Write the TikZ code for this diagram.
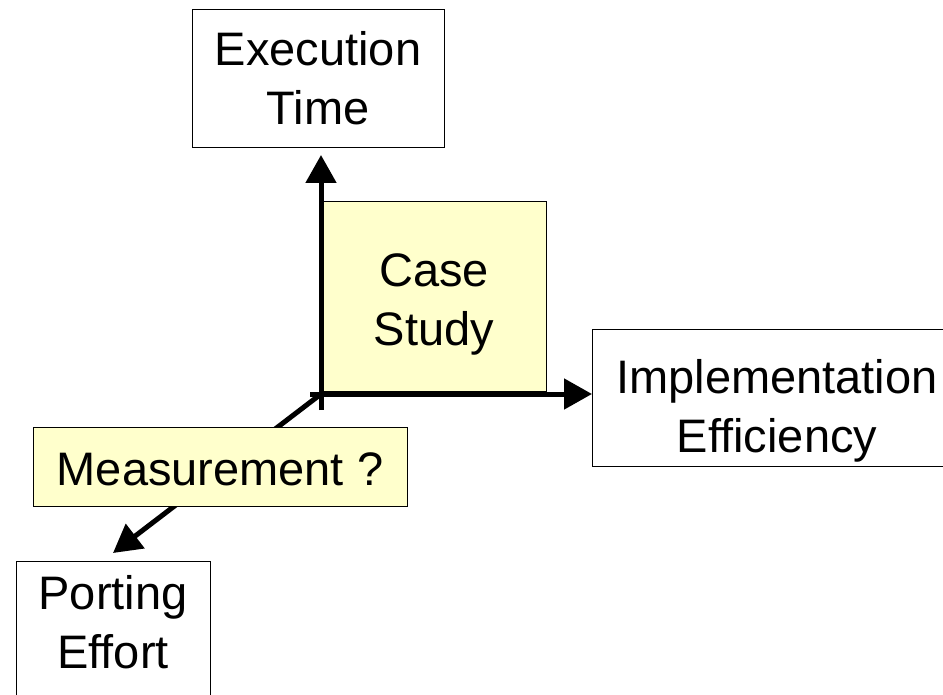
\documentclass[tikz,border=0pt]{standalone}
\usepackage{fontspec}
\setmainfont{Liberation Sans}
\usetikzlibrary{arrows.meta}
\definecolor{paleyellow}{HTML}{FFFFCC}
\begin{document}
\begin{tikzpicture}[x=1pt,y=-1pt,
  box/.style={draw=black, line width=1.3pt, fill=white, inner sep=0pt, anchor=north west},
  ybox/.style={box, fill=paleyellow},
  txt/.style={font=\fontsize{47}{59}\selectfont, align=center, inner sep=0pt, anchor=base},
  axis/.style={line width=5pt, -{Triangle[length=28pt,width=30pt]}}]
\useasboundingbox (0,0) rectangle (943,695);
% boxes
\node[box, minimum width=252, minimum height=138] (exec) at (192,9) {};
\node[txt] (exect) at (318,125) {Execution\\Time};
\node[ybox, minimum width=224, minimum height=190] (case) at (322,201) {};
\node[txt] (caset) at (434,345) {Case\\Study};
\node[box, minimum width=370, minimum height=137] (impl) at (592,329) {};
\node[txt] (implt) at (777,452) {Implementation\\Efficiency};
\node[box, minimum width=194, minimum height=160] (port) at (16,561) {};
\node[txt] (portt) at (113,668) {Porting\\Effort};
% axes
\coordinate (O) at (321,394);
\coordinate (vstart) at (321,410);
\coordinate (vtip) at (321,155);
\coordinate (hstart) at (310,394);
\coordinate (dtip) at (113,553);
\draw[axis] (O) -- (dtip);
\node[ybox, minimum width=374, minimum height=79] (meas) at (33,427) {};
\node[txt] (meast) at (220,485) {Measurement ?};
\draw[axis] (vstart) -- (vtip);
\draw[axis] (hstart) -- (hstart -| impl.west);
\end{tikzpicture}
\end{document}
